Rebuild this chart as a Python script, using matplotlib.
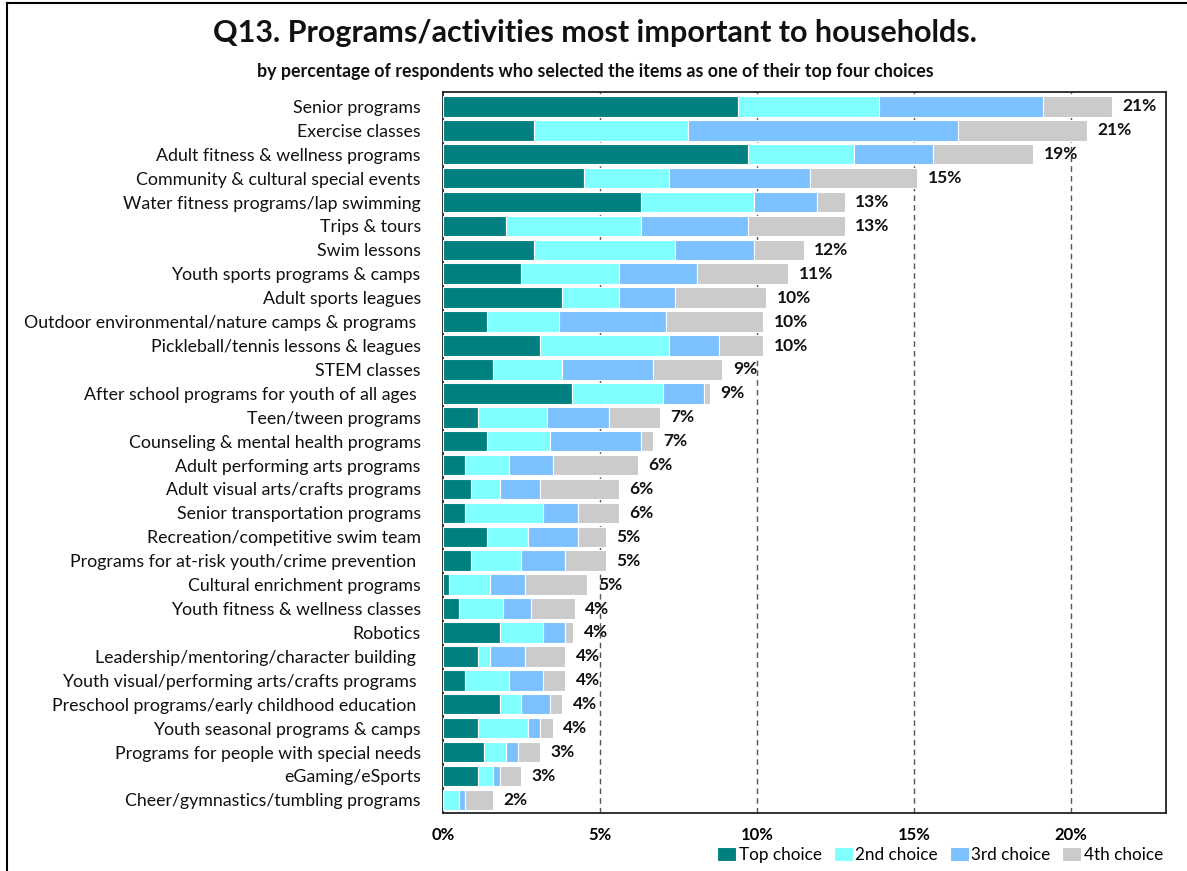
import matplotlib
matplotlib.use("Agg")
from matplotlib import pyplot as plt
from matplotlib.lines import Line2D
import numpy as np

plt.rcParams['font.family'] = ['Lato', 'DejaVu Sans']

categories = [
    "Senior programs", "Exercise classes", "Adult fitness & wellness programs",
    "Community & cultural special events", "Water fitness programs/lap swimming",
    "Trips & tours", "Swim lessons", "Youth sports programs & camps",
    "Adult sports leagues", "Outdoor environmental/nature camps & programs ",
    "Pickleball/tennis lessons & leagues", "STEM classes",
    "After school programs for youth of all ages ", "Teen/tween programs",
    "Counseling & mental health programs", "Adult performing arts programs",
    "Adult visual arts/crafts programs", "Senior transportation programs",
    "Recreation/competitive swim team", "Programs for at-risk youth/crime prevention ",
    "Cultural enrichment programs", "Youth fitness & wellness classes", "Robotics",
    "Leadership/mentoring/character building ", "Youth visual/performing arts/crafts programs ",
    "Preschool programs/early childhood education ", "Youth seasonal programs & camps",
    "Programs for people with special needs", "eGaming/eSports",
    "Cheer/gymnastics/tumbling programs",
]

top_choice = [9.4, 2.9, 9.7, 4.5, 6.3, 2.0, 2.9, 2.5, 3.8, 1.4, 3.1, 1.6, 4.1, 1.1, 1.4,
              0.7, 0.9, 0.7, 1.4, 0.9, 0.2, 0.5, 1.8, 1.1, 0.7, 1.8, 1.1, 1.3, 1.1, 0.0]
second_choice = [4.5, 4.9, 3.4, 2.7, 3.6, 4.3, 4.5, 3.1, 1.8, 2.3, 4.1, 2.2, 2.9, 2.2, 2.0,
                 1.4, 0.9, 2.5, 1.3, 1.6, 1.3, 1.4, 1.4, 0.4, 1.4, 0.7, 1.6, 0.7, 0.5, 0.5]
third_choice = [5.2, 8.6, 2.5, 4.5, 2.0, 3.4, 2.5, 2.5, 1.8, 3.4, 1.6, 2.9, 1.3, 2.0, 2.9,
                1.4, 1.3, 1.1, 1.6, 1.4, 1.1, 0.9, 0.7, 1.1, 1.1, 0.9, 0.4, 0.4, 0.2, 0.2]
fourth_choice = [2.2, 4.1, 3.2, 3.4, 0.9, 3.1, 1.6, 2.9, 2.9, 3.1, 1.4, 2.2, 0.2, 1.6, 0.4,
                 2.7, 2.5, 1.3, 0.9, 1.3, 2.0, 1.4, 0.25, 1.3, 0.7, 0.4, 0.4, 0.7, 0.7, 0.9]
total_labels = ["21%", "21%", "19%", "15%", "13%", "13%", "12%", "11%", "10%", "10%",
                "10%", "9%", "9%", "7%", "7%", "6%", "6%", "6%", "5%", "5%",
                "5%", "4%", "4%", "4%", "4%", "4%", "4%", "3%", "3%", "2%"]

series_names = ["Top choice", "2nd choice", "3rd choice", "4th choice"]
colors = ["#008080", "#80FFFF", "#7CC1FF", "#CBCBCB"]

fig = plt.figure(figsize=(11.87, 8.71), dpi=100)
ax = fig.add_axes([443 / 1187, 1 - 813 / 871, (1166 - 443) / 1187, (813 - 92.5) / 871])

y = np.arange(len(categories))
left = np.zeros(len(categories))
handles = []
for vals, name, c in zip([top_choice, second_choice, third_choice, fourth_choice],
                         series_names, colors):
    vals = np.array(vals)
    b = ax.barh(y, vals, left=left, height=0.86, color=c, edgecolor="white",
                linewidth=0.8, label=name, zorder=3)
    handles.append(b)
    left = left + vals

for yi, tot, lab in zip(y, left, total_labels):
    ax.text(tot + 0.33, yi, lab, va="center", ha="left", fontsize=12.5,
            fontweight="bold", color="#111111", zorder=4)

ax.set_xlim(0, 23.03)
ax.set_ylim(len(categories) - 0.45, -0.58)
ax.set_yticks(y)
ax.set_yticklabels(categories, fontsize=12.8, color="#111111")
ax.tick_params(axis="y", length=0, pad=16)
ax.set_xticks([0, 5, 10, 15, 20])
ax.set_xticklabels([f"{v}%" for v in [0, 5, 10, 15, 20]], fontsize=12, fontweight="bold")
ax.tick_params(axis="x", length=0, pad=10)
for gx in [5, 10, 15, 20]:
    ax.axvline(gx, color="#555555", linewidth=1, linestyle=(0, (4, 3)), zorder=1)
for s in ax.spines.values():
    s.set_linewidth(1.3)
    s.set_color("#222222")

fig.text(595 / 1187, 1 - 33 / 871, "Q13. Programs/activities most important to households.",
         ha="center", va="center", fontsize=22, fontweight="bold", color="#111111")
fig.text(595 / 1187, 1 - 71 / 871,
         "by percentage of respondents who selected the items as one of their top four choices",
         ha="center", va="center", fontsize=12.8, fontweight="bold", color="#111111")

fig.legend(handles=handles, loc="lower right", bbox_to_anchor=(1168 / 1187, 0.003),
           ncol=4, frameon=False, fontsize=12.3, handlelength=1.1, handleheight=0.9,
           handletextpad=0.15, columnspacing=0.7, borderaxespad=0.1, borderpad=0.2)

# outer frame, left and top only
fig.add_artist(Line2D([7 / 1187, 7 / 1187], [0, 1 - 3 / 871], color="black", linewidth=1.5))
fig.add_artist(Line2D([7 / 1187, 1], [1 - 3 / 871, 1 - 3 / 871], color="black", linewidth=1.5))

fig.savefig("out.png", dpi=100)
